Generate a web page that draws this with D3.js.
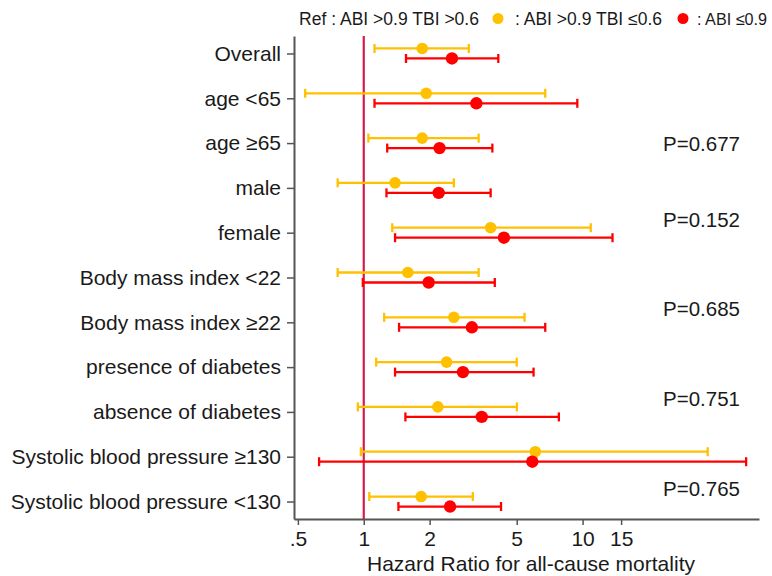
<!DOCTYPE html>
<html>
<head>
<meta charset="utf-8">
<script src="https://cdn.jsdelivr.net/npm/d3@7"></script>
<style>
  body { margin: 0; background: #fff; }
  svg { display: block; font-family: "Liberation Sans", Arial, sans-serif; }
</style>
</head>
<body>
<svg id="chart" width="772" height="576"></svg>
<script>
// ---- data ----
const categories = [
  "Overall", "age <65", "age \u226565", "male", "female",
  "Body mass index <22", "Body mass index \u226522",
  "presence of diabetes", "absence of diabetes",
  "Systolic blood pressure \u2265130", "Systolic blood pressure <130"
];
// ABI >0.9 TBI <=0.6 (yellow)
const yellowHR = [1.85, 1.93, 1.85, 1.39, 3.80, 1.59, 2.58, 2.39, 2.18, 6.08, 1.83];
const yellowLo = [1.12, 0.54, 1.05, 0.76, 1.35, 0.76, 1.24, 1.14, 0.94, 0.97, 1.06];
const yellowHi = [3.02, 6.75, 3.35, 2.58, 10.9, 3.35, 5.43, 5.00, 5.01, 37.3, 3.15];
// ABI <=0.9 (red)
const redHR = [2.53, 3.27, 2.22, 2.20, 4.37, 1.98, 3.12, 2.84, 3.46, 5.89, 2.48];
const redLo = [1.56, 1.12, 1.28, 1.27, 1.39, 0.99, 1.45, 1.39, 1.55, 0.625, 1.44];
const redHi = [4.12, 9.46, 3.87, 3.80, 13.7, 3.97, 6.75, 5.97, 7.79, 55.9, 4.24];
const xTicks = [0.5, 1, 2, 5, 10, 15];
const xTickLabels = [".5", "1", "2", "5", "10", "15"];
// p-values placed between category pairs (row position in category index units)
const pLabels = ["P=0.677", "P=0.152", "P=0.685", "P=0.751", "P=0.765"];
const pRowPos = [2.0, 3.7, 5.7, 7.7, 9.7];
const legendItems = [
  {text: "Ref : ABI >0.9 TBI >0.6", color: null},
  {text: ": ABI >0.9 TBI \u22640.6", color: "#ffc000"},
  {text: ": ABI \u22640.9", color: "#ff0000"}
];

const YELLOW = "#ffc000", RED = "#ff0000", REFLINE = "#d41c4a", TXT = "#1a1a1a", AX = "#555";

const svg = d3.select("#chart");
const mLeft = 294, mRight = 759, mTop = 36, mBottom = 519;

const x = d3.scaleLog().domain([0.48, 64]).range([mLeft, mRight]);
const y = d3.scalePoint().domain(categories).range([mTop, mBottom]).padding(0.39);
const yIdx = d3.scaleLinear().domain([0, categories.length - 1]).range([y(categories[0]), y(categories[categories.length - 1])]);

// x axis
const xAxis = d3.axisBottom(x).tickValues(xTicks).tickFormat((d, i) => xTickLabels[i]).tickSize(6).tickSizeOuter(0).tickPadding(6);
const gx = svg.append("g").attr("transform", `translate(0,${mBottom})`).call(xAxis);
gx.select(".domain").attr("stroke", AX).attr("stroke-width", 2);
gx.selectAll(".tick line").attr("stroke", AX).attr("stroke-width", 1.5);
gx.selectAll(".tick text").attr("fill", TXT).attr("font-size", 21).attr("font-family", "Liberation Sans, Arial, sans-serif");

// y axis
const yAxis = d3.axisLeft(y).tickSize(7).tickSizeOuter(0).tickPadding(6);
const gy = svg.append("g").attr("transform", `translate(${mLeft},0)`).call(yAxis);
gy.select(".domain").attr("stroke", AX).attr("stroke-width", 2);
gy.selectAll(".tick line").attr("stroke", AX).attr("stroke-width", 1.5);
gy.selectAll(".tick text").attr("fill", TXT).attr("font-size", 21).attr("font-family", "Liberation Sans, Arial, sans-serif");

// x title
svg.append("text").attr("x", 531).attr("y", 571).attr("text-anchor", "middle")
  .attr("font-size", 21).attr("fill", TXT).text("Hazard Ratio for all-cause mortality");

// reference line
svg.append("line").attr("x1", x(1)).attr("x2", x(1)).attr("y1", mTop).attr("y2", mBottom)
  .attr("stroke", REFLINE).attr("stroke-width", 2.2);

// series
const series = [
  {color: YELLOW, hr: yellowHR, lo: yellowLo, hi: yellowHi, off: -5, r: 5.8},
  {color: RED, hr: redHR, lo: redLo, hi: redHi, off: 5, r: 6.2}
];
const capH = 4.5;
series.forEach(s => {
  const g = svg.append("g");
  categories.forEach((c, i) => {
    const yy = y(c) + s.off;
    g.append("line").attr("x1", x(s.lo[i])).attr("x2", x(s.hi[i])).attr("y1", yy).attr("y2", yy)
      .attr("stroke", s.color).attr("stroke-width", 2.3);
    [s.lo[i], s.hi[i]].forEach(v => {
      g.append("line").attr("x1", x(v)).attr("x2", x(v)).attr("y1", yy - capH).attr("y2", yy + capH)
        .attr("stroke", s.color).attr("stroke-width", 2.3);
    });
    g.append("circle").attr("cx", x(s.hr[i])).attr("cy", yy).attr("r", s.r).attr("fill", s.color);
  });
});

// p-values
pLabels.forEach((t, i) => {
  svg.append("text").attr("x", 663).attr("y", yIdx(pRowPos[i]) + 7.5)
    .attr("font-size", 20.5).attr("fill", TXT).text(t);
});

// legend
const legX = [299, 515, 697];
const legW = [180, 147, 70];
const legFS = [17.5, 17.5, 16.5];
const dotX = [null, 498, 683];
legendItems.forEach((it, i) => {
  if (it.color) {
    svg.append("circle").attr("cx", dotX[i]).attr("cy", 18.5).attr("r", 5.5).attr("fill", it.color);
  }
  svg.append("text").attr("x", legX[i]).attr("y", 24.5).attr("font-size", legFS[i]).attr("fill", TXT)
    .attr("textLength", legW[i]).attr("lengthAdjust", "spacingAndGlyphs").text(it.text);
});
</script>
</body>
</html>
